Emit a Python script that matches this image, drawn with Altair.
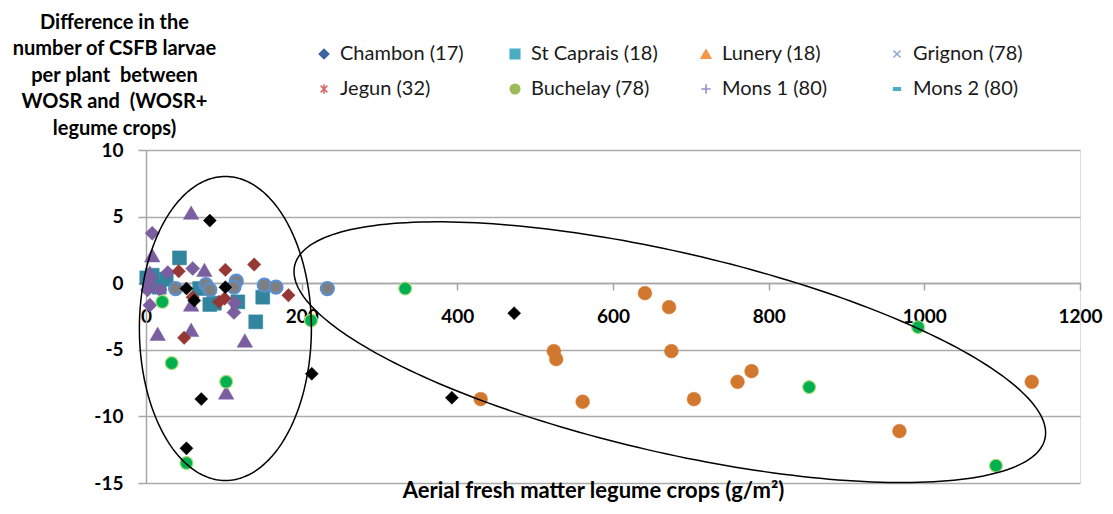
import altair as alt
import pandas as pd
import numpy as np

# ---------------- data ----------------
series_names = ["Chambon (17)", "St Caprais (18)", "Lunery (18)", "Grignon (78)",
                "Jegun (32)", "Buchelay (78)", "Mons 1 (80)", "Mons 2 (80)"]

lunery_x = [641, 672, 524, 527, 675, 778, 760, 430, 561, 704, 968, 1138]
lunery_y = [-0.75, -1.8, -5.1, -5.7, -5.1, -6.6, -7.4, -8.7, -8.9, -8.7, -11.1, -7.4]

stcaprais_x = [43, 1, 8, 17, 26, 5, 69, 82, 88, 118, 150, 141]
stcaprais_y = [1.9, 0.4, 0.6, -0.3, 0.3, -0.2, -0.4, -1.6, -1.5, -1.4, -1.05, -2.9]

mons2_x = [8, 28, 60, 18, 5, 114, 113, 5, 2]
mons2_y = [3.75, 0.8, 1.1, -0.5, -1.65, -1.5, -2.2, 0.0, -0.5]

mons1_x = [58, 8, 75, 15, 58, 127, 103, 5, 58]
mons1_y = [5.3, 2.1, 1.0, -3.8, -3.5, -4.3, -8.2, 0.8, -1.6]

jegun_x = [42, 102, 139, 183, 60, 101, 94, 49]
jegun_y = [0.9, 1.0, 1.4, -0.9, -1.05, -1.15, -1.4, -4.1]

grignon_x = [38, 77, 82, 116, 113, 152, 167, 233]
grignon_y = [-0.4, -0.1, -0.5, 0.15, -0.3, -0.15, -0.3, -0.4]

buchelay_x = [333, 212, 33, 103, 52, 21, 852, 992, 1092]
buchelay_y = [-0.4, -2.8, -6.0, -7.4, -13.5, -1.4, -7.8, -3.3, -13.7]

chambon_x = [82, 52, 71, 213, 473, 393, 102, 52, 62]
chambon_y = [4.7, -12.4, -8.7, -6.8, -2.25, -8.6, -0.3, -0.4, -1.3]

x_ticks = [0, 200, 400, 600, 800, 1000, 1200]
y_ticks = [-15, -10, -5, 0, 5, 10]

y_title = ["Difference in the", "number of CSFB larvae", "per plant\u00a0 between",
           "WOSR and\u00a0 (WOSR+", "legume crops)"]
x_title = "Aerial fresh matter legume crops (g/m\u00b2)"

# ellipse annotations (centre in data units, semi-axes in px, tilt in degrees)
ell_left = dict(cx=102, cy=-3.4, rx_px=86, ry_px=152, tilt=0)
ell_right = dict(cx=673, cy=-5.18, rx_px=385, ry_px=100, tilt=13)

# ---------------- build tables ----------------
draw_order = [("Lunery (18)", lunery_x, lunery_y),
              ("St Caprais (18)", stcaprais_x, stcaprais_y),
              ("Mons 2 (80)", mons2_x, mons2_y),
              ("Mons 1 (80)", mons1_x, mons1_y),
              ("Jegun (32)", jegun_x, jegun_y),
              ("Grignon (78)", grignon_x, grignon_y),
              ("Buchelay (78)", buchelay_x, buchelay_y),
              ("Chambon (17)", chambon_x, chambon_y)]
rows = []
for name, xs, ys in draw_order:
    for xv, yv in zip(xs, ys):
        rows.append({"series": name, "x": xv, "y": yv})
pts = pd.DataFrame(rows)

W, H = 934, 333
XMAX, YMIN, YMAX = 1200, -15, 10
kx = W / XMAX
ky = H / (YMAX - YMIN)

ell_rows = []
t = np.linspace(0, 2 * np.pi, 241)
for k, e in enumerate([ell_left, ell_right]):
    th = np.radians(e["tilt"])
    dx = e["rx_px"] * np.cos(t) * np.cos(th) - e["ry_px"] * np.sin(t) * np.sin(th)
    dy = e["rx_px"] * np.cos(t) * np.sin(th) + e["ry_px"] * np.sin(t) * np.cos(th)
    for i in range(len(t)):
        ell_rows.append({"e": k, "i": i, "x": e["cx"] + dx[i] / kx, "y": e["cy"] - dy[i] / ky})
ell = pd.DataFrame(ell_rows)

FONT = "Lato"

# plotted appearance
plot_fill = ["#000000", "#31859C", "#D2772E", "#7F7F7F", "#953735", "#00B050", "#7B5EA0", "#7B5EA0"]
plot_stroke = ["#000000", "#31859C", "#D2772E", "#5B8FD0", "#953735", "#A8D878", "#7B5EA0", "#7B5EA0"]
plot_shape = ["diamond", "square", "circle", "circle", "diamond", "circle", "triangle-up", "diamond"]
plot_size = [170, 195, 190, 170, 180, 165, 240, 200]
plot_sw = [0.5, 0.5, 0.5, 2.2, 0.5, 1.2, 0.5, 0.5]

# legend appearance
leg_color = ["#3B64A5", "#4BACC6", "#F79646", "#8EA9DB", "#E06666", "#9BBB59", "#A08CC8", "#4BACC6"]
X_PATH = "M-0.75,-0.75L0.75,0.75M0.75,-0.75L-0.75,0.75"
AST_PATH = "M-0.7,-0.7L0.7,0.7M0.7,-0.7L-0.7,0.7M0,-1L0,1"
PLUS_PATH = "M0,-1L0,1M-1,0L1,0"
DASH_PATH = "M-0.7,-0.25L0.7,-0.25L0.7,0.25L-0.7,0.25Z"
leg_shape = ["diamond", "square", "triangle-up", X_PATH, AST_PATH, "circle", PLUS_PATH, DASH_PATH]

x_enc = alt.X("x:Q", scale=alt.Scale(domain=[0, XMAX], nice=False, zero=False),
              axis=alt.Axis(values=x_ticks, format="d", offset=-200, grid=False,
                            domainColor="#A6A6A6", domainWidth=1.5, tickColor="#A6A6A6",
                            tickWidth=1.5, tickSize=7, labelPadding=17, labelFont=FONT,
                            labelFontSize=19, labelFontWeight="bold", labelColor="#000000",
                            labelOverlap=False, labelFlush=False, title=x_title,
                            titleFont=FONT, titleFontSize=22, titleFontWeight="bold",
                            titleColor="#000000", titleBaseline="alphabetic", titleY=214,
                            titleX=447, titleAlign="center"))
y_enc = alt.Y("y:Q", scale=alt.Scale(domain=[YMIN, YMAX], nice=False, zero=False),
              axis=alt.Axis(values=y_ticks, labelExpr="'' + datum.value", grid=True,
                            gridColor="#ABABAB", gridWidth=1.5, domainColor="#A6A6A6",
                            domainWidth=1.5, tickColor="#A6A6A6", tickWidth=1.5, tickSize=8,
                            labelPadding=15, labelFont=FONT, labelFontSize=19,
                            labelFontWeight="bold", labelColor="#000000",
                            title=y_title, titleAngle=0, titleAlign="center",
                            titleBaseline="alphabetic", titleX=-32, titleY=-122,
                            titleFont=FONT, titleFontSize=20, titleFontWeight="bold",
                            titleColor="#000000", titleLineHeight=26.5))

points = alt.Chart(pts).mark_point(filled=True, opacity=1).encode(
    x=x_enc, y=y_enc,
    fill=alt.Fill("series:N", scale=alt.Scale(domain=series_names, range=plot_fill), legend=None),
    stroke=alt.Stroke("series:N", scale=alt.Scale(domain=series_names, range=plot_stroke), legend=None),
    shape=alt.Shape("series:N", scale=alt.Scale(domain=series_names, range=plot_shape), legend=None),
    size=alt.Size("series:N", scale=alt.Scale(type="ordinal", domain=series_names, range=plot_size),
                  legend=None),
    strokeWidth=alt.StrokeWidth("series:N", scale=alt.Scale(type="ordinal", domain=series_names,
                                                            range=plot_sw), legend=None),
)

legend_def = alt.Legend(title=None, orient="none", legendX=168, legendY=-106, columns=4,
                        direction="horizontal", gridAlign="all", columnPadding=38,
                        rowPadding=15, labelFont=FONT, labelFontSize=20, labelColor="#1a1a1a",
                        labelOffset=6, symbolSize=90, symbolStrokeWidth=1.6, symbolOpacity=1,
                        labelLimit=300)

legend_layer = alt.Chart(pts).mark_point(filled=True, opacity=0).encode(
    x="x:Q", y="y:Q",
    fill=alt.Fill("series:N", scale=alt.Scale(domain=series_names, range=leg_color), legend=legend_def),
    stroke=alt.Stroke("series:N", scale=alt.Scale(domain=series_names, range=leg_color), legend=legend_def),
    shape=alt.Shape("series:N", scale=alt.Scale(domain=series_names, range=leg_shape), legend=legend_def),
)

ellipses = alt.Chart(ell).mark_line(color="#000000", strokeWidth=1.5).encode(
    x="x:Q", y="y:Q", detail="e:N", order="i:Q")

chart = alt.layer(legend_layer, points, ellipses).resolve_scale(
    fill="independent", stroke="independent", shape="independent"
).properties(
    width=W, height=H,
    autosize=alt.AutoSizeParams(type="none"),
    padding={"left": 138, "top": 142, "right": 25, "bottom": 23},
).configure_view(stroke=None).configure(background="#FFFFFF")

chart.save("out.html", embed_options={"renderer": "svg", "actions": False})
